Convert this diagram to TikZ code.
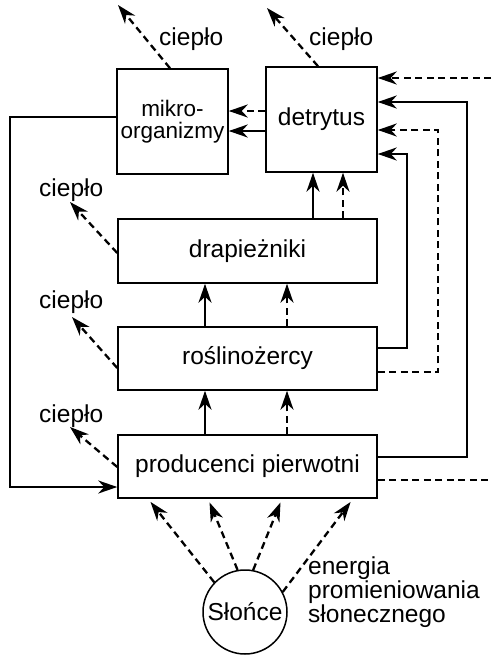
\documentclass[tikz,border=0pt]{standalone}
\usepackage{fontspec}
\setmainfont{Liberation Sans}
\usetikzlibrary{arrows.meta}
\begin{document}
\begin{tikzpicture}[x=1pt,y=-1pt,
  every node/.style={font=\fontsize{24.5}{22}\selectfont},
  box/.style={draw,line width=1.5pt,inner sep=0pt,align=center},
  widebox/.style={box,minimum width=259pt,minimum height=63pt},
  flow/.style={line width=2.3pt,-{Stealth[length=19pt,width=13pt,inset=6pt]}},
  energy/.style={flow,dash pattern=on 7pt off 4.5pt},
  energyline/.style={line width=2.3pt,dash pattern=on 7pt off 4.5pt},
  link/.style={line width=2.3pt}]
\useasboundingbox (0,0) rectangle (491,656);

% compartments
\node[box,minimum width=111pt,minimum height=105pt,font=\fontsize{22.5}{21.5}\selectfont] (mikro) at (172.5,121.5) {mikro-\\organizmy};
\node[box,minimum width=111pt,minimum height=105pt] (det) at (321.5,119.5) {detrytus};
\node[widebox,minimum height=64pt] (drap) at (247.5,251) {drapieżniki};
\node[widebox] (rosl) at (247.5,358.5) {roślinożercy};
\node[widebox] (prod) at (247.5,466.5) {producenci pierwotni};
\node[draw,line width=1.5pt,circle,minimum size=84pt,inner sep=0pt] (sun) at (245,612) {Słońce};

% sunlight
\node[anchor=north west,align=left,inner sep=0pt] (sunlbl) at (308,557) {energia\\promieniowania\\słonecznego};
\draw[energy,shorten >=4pt] (sun.136) -- (prod.south -| 148,0);
\draw[energy,shorten >=4pt] (sun.100) -- (prod.south -| 208,0);
\draw[energy,shorten >=4pt] (sun.79) -- (prod.south -| 282,0);
\draw[energy,shorten >=4pt] (sun.28) -- (prod.south -| 353,0);

% upward flows between trophic levels
\draw[flow] (prod.north -| 205,0) -- (rosl.south -| 205,0);
\draw[energy] (prod.north -| 287,0) -- (rosl.south -| 287,0);
\draw[flow] (rosl.north -| 205,0) -- (drap.south -| 205,0);
\draw[energy] (rosl.north -| 287,0) -- (drap.south -| 287,0);
\draw[flow] (drap.north -| 313,0) -- (det.south -| 313,0);
\draw[energy] (drap.north -| 343,0) -- (det.south -| 343,0);

% detritus to microorganisms
\draw[energy] (det.west |- 0,111) -- (mikro.east |- 0,111);
\draw[flow] (det.west |- 0,131) -- (mikro.east |- 0,131);

% return loops on the right
\coordinate (inTop) at (491,78);
\coordinate (outBot) at (491,480);
\draw[energy] (inTop) -- (det.east |- inTop);
\draw[flow] (prod.east |- 0,457) -| (467,102) -- (det.east |- 0,102);
\draw[energy] (rosl.east |- 0,372) -| (438,130) -- (det.east |- 0,130);
\draw[flow] (rosl.east |- 0,348) -| (407,154) -- (det.east |- 0,154);
\draw[energyline] (prod.east |- outBot) -- (outBot);

% nutrient loop on the left
\draw[flow] (mikro.west |- 0,117) -| (10,487) -- (prod.west |- 0,487);

% heat losses
\coordinate (hm) at (118,5);
\coordinate (hd) at (267,8);
\coordinate (hdr) at (70,202);
\coordinate (hr) at (72,317);
\coordinate (hp) at (70,427);
\draw[energy] (mikro.north -| 170,0) -- (hm);
\draw[energy] (det.north -| 318,0) -- (hd);
\draw[energy] (drap.west |- 0,253) -- (hdr);
\draw[energy] (rosl.west |- 0,368) -- (hr);
\draw[energy] (prod.west |- 0,467) -- (hp);
\node[anchor=base west,inner sep=0pt] (cm) at (159,45) {ciepło};
\node[anchor=base west,inner sep=0pt] (cd) at (309,45) {ciepło};
\node[anchor=base west,inner sep=0pt] (cdr) at (39,196) {ciepło};
\node[anchor=base west,inner sep=0pt] (cr) at (39,308) {ciepło};
\node[anchor=base west,inner sep=0pt] (cp) at (39,422) {ciepło};
\end{tikzpicture}
\end{document}
